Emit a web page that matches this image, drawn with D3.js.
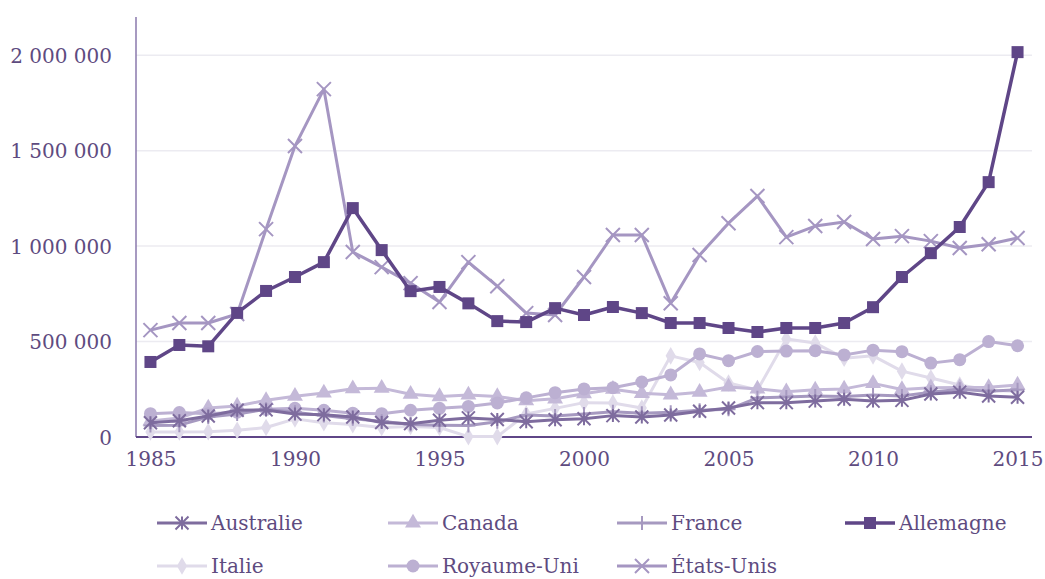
<!DOCTYPE html>
<html>
<head>
<meta charset="utf-8">
<script src="https://cdn.jsdelivr.net/npm/d3@7"></script>
<style>
    body { margin: 0; background: #fff; }
</style>
</head>
<body>
<svg id="chart" width="1045" height="579"></svg>
<script>
(function () {
    'use strict';

    var years = d3.range(1985, 2016);
    var yTicks = [0, 500000, 1000000, 1500000, 2000000];
    var xTicks = [1985, 1990, 1995, 2000, 2005, 2010, 2015];

    var australie = [75000, 85000, 110000, 140000, 142000, 120000, 117000, 105000, 76000, 70000,
        88000, 100000, 92000, 80000, 90000, 96000, 112000, 105000, 115000, 135000,
        152000, 180000, 180000, 188000, 198000, 188000, 192000, 225000, 235000, 215000, 208000];
    var canada = [84000, 99000, 152000, 162000, 192000, 214000, 231000, 253000, 256000, 224000,
        212000, 220000, 212000, 190000, 200000, 227000, 250000, 229000, 221000, 235000,
        262000, 252000, 237000, 247000, 252000, 281000, 249000, 258000, 259000, 260000, 272000];
    var france = [60000, 62000, 105000, 120000, 145000, 130000, 112000, 95000, 82000, 65000,
        62000, 60000, 80000, 115000, 110000, 120000, 132000, 125000, 130000, 140000,
        145000, 205000, 210000, 215000, 212000, 220000, 215000, 235000, 250000, 240000, 248000];
    var allemagne = [393000, 482000, 475000, 650000, 765000, 838000, 916000, 1199000, 979000, 764000,
        786000, 700000, 607000, 602000, 675000, 639000, 681000, 649000, 597000, 597000,
        571000, 550000, 571000, 571000, 597000, 680000, 838000, 963000, 1100000, 1335000, 2016000];
    var italie = [26000, 26000, 28000, 35000, 50000, 95000, 75000, 65000, 50000, 55000,
        50000, 2000, 2000, 120000, 150000, 180000, 178000, 152000, 425000, 390000,
        283000, 246000, 513000, 492000, 413000, 425000, 345000, 309000, 272000, 246000, 238000];
    var royaumeUni = [122000, 128000, 122000, 130000, 145000, 150000, 140000, 125000, 122000, 140000,
        150000, 160000, 178000, 205000, 232000, 252000, 258000, 288000, 325000, 435000,
        400000, 448000, 450000, 452000, 430000, 455000, 447000, 387000, 405000, 500000, 478000];
    var etatsUnis = [560000, 597000, 597000, 644000, 1089000, 1524000, 1822000, 969000, 890000, 806000,
        707000, 916000, 790000, 649000, 639000, 838000, 1058000, 1058000, 701000, 953000,
        1120000, 1262000, 1047000, 1105000, 1126000, 1037000, 1052000, 1026000, 990000, 1010000, 1042000];

    var series = [
        { name: 'Australie', values: australie, color: '#7e6c9e', marker: 'asterisk' },
        { name: 'Canada', values: canada, color: '#c4b9d8', marker: 'triangle' },
        { name: 'France', values: france, color: '#a699c0', marker: 'plus' },
        { name: 'Allemagne', values: allemagne, color: '#5f4687', marker: 'square' },
        { name: 'Italie', values: italie, color: '#e0dbea', marker: 'diamond' },
        { name: 'Royaume-Uni', values: royaumeUni, color: '#bcb0d2', marker: 'circle' },
        { name: 'États-Unis', values: etatsUnis, color: '#a596c2', marker: 'cross' }
    ];

    // draw order: light lines first, dark ones on top
    var drawOrder = ['Italie', 'Canada', 'Royaume-Uni', 'France', 'Australie', 'États-Unis', 'Allemagne'];

    var FONT = "'DejaVu Serif', 'Liberation Serif', 'Noto Serif', serif",
        FONT_SIZE = '20px',
        TEXT_COLOR = '#5e4b80';

    var svg = d3.select('#chart');
    var left = 136, right = 1032, top = 17, bottom = 437;

    var x = d3.scalePoint()
        .domain(years)
        .range([left, right])
        .padding(0.5);

    var y = d3.scaleLinear()
        .domain([0, 2200000])
        .range([bottom, top]);

    var fmt = d3.formatLocale({ decimal: ',', thousands: ' ', grouping: [3], currency: ['', ''] }).format(',d');

    // gridlines
    svg.append('g')
        .attr('class', 'grid')
        .selectAll('line')
        .data(yTicks.filter(function (d) { return d > 0; }))
        .enter().append('line')
        .attr('x1', left)
        .attr('x2', right)
        .attr('y1', function (d) { return y(d); })
        .attr('y2', function (d) { return y(d); })
        .style('stroke', '#ecebf1')
        .style('stroke-width', 1.5);

    // y axis
    var yAxis = svg.append('g')
        .attr('transform', 'translate(' + left + ',0)')
        .call(d3.axisLeft(y).tickValues(yTicks).tickFormat(fmt).tickSize(0).tickPadding(24));
    yAxis.attr('font-family', null);
    yAxis.select('.domain').remove();
    yAxis.selectAll('text')
        .style('font-family', FONT)
        .style('font-size', FONT_SIZE)
        .style('fill', TEXT_COLOR)
        .attr('dy', '0.35em');

    svg.append('line')
        .attr('x1', left).attr('x2', left)
        .attr('y1', top).attr('y2', bottom)
        .style('stroke', '#8a79ad')
        .style('stroke-width', 1.5);

    // x axis
    var xAxis = svg.append('g')
        .attr('transform', 'translate(0,' + bottom + ')')
        .call(d3.axisBottom(x).tickValues(xTicks).tickFormat(d3.format('d')).tickSize(0).tickPadding(22));
    xAxis.attr('font-family', null);
    xAxis.select('.domain').remove();
    xAxis.selectAll('text')
        .style('font-family', FONT)
        .style('font-size', FONT_SIZE)
        .style('fill', TEXT_COLOR)
        .attr('dy', '0.35em');

    svg.append('line')
        .attr('x1', left).attr('x2', right)
        .attr('y1', bottom).attr('y2', bottom)
        .style('stroke', '#5f4687')
        .style('stroke-width', 2);

    function drawMarker(g, type, color) {
        var s;
        switch (type) {
            case 'square':
                g.append('rect')
                    .attr('x', -6).attr('y', -6)
                    .attr('width', 12).attr('height', 12)
                    .style('fill', color);
                break;
            case 'circle':
                g.append('circle')
                    .attr('r', 6.5)
                    .style('fill', color);
                break;
            case 'triangle':
                g.append('path')
                    .attr('d', d3.symbol().type(d3.symbolTriangle).size(110))
                    .style('fill', color);
                break;
            case 'diamond':
                g.append('path')
                    .attr('d', d3.symbol().type(d3.symbolDiamond).size(90))
                    .style('fill', color);
                break;
            case 'cross':
                s = 7;
                g.append('path')
                    .attr('d', 'M' + -s + ',' + -s + 'L' + s + ',' + s + 'M' + -s + ',' + s + 'L' + s + ',' + -s)
                    .style('stroke', color)
                    .style('stroke-width', 2)
                    .style('fill', 'none');
                break;
            case 'plus':
                s = 7;
                g.append('path')
                    .attr('d', 'M0,' + -s + 'L0,' + s + 'M' + -s + ',0L' + s + ',0')
                    .style('stroke', color)
                    .style('stroke-width', 2)
                    .style('fill', 'none');
                break;
            case 'asterisk':
                s = 6.5;
                g.append('path')
                    .attr('d', 'M0,' + -s + 'L0,' + s + 'M' + -s + ',' + -s + 'L' + s + ',' + s + 'M' + -s + ',' + s + 'L' + s + ',' + -s)
                    .style('stroke', color)
                    .style('stroke-width', 2)
                    .style('fill', 'none');
                break;
        }
    }

    var line = d3.line()
        .x(function (d, i) { return x(years[i]); })
        .y(function (d) { return y(d); });

    var plot = svg.append('g').attr('class', 'plot');

    drawOrder.forEach(function (name) {
        var s = series.filter(function (d) { return d.name === name; })[0];
        var g = plot.append('g').attr('class', 'series');

        g.append('path')
            .datum(s.values)
            .attr('d', line)
            .style('fill', 'none')
            .style('stroke', s.color)
            .style('stroke-width', s.name === 'Allemagne' ? 3.5 : 3)
            .style('stroke-linejoin', 'round');

        g.selectAll('.pt')
            .data(s.values)
            .enter().append('g')
            .attr('class', 'pt')
            .attr('transform', function (d, i) {
                return 'translate(' + x(years[i]) + ',' + y(d) + ')';
            })
            .each(function () {
                drawMarker(d3.select(this), s.marker, s.color);
            });
    });

    // legend, 4 columns x 2 rows
    var colX = [157, 388, 617, 845],
        rowY = [523, 566];

    var legend = svg.append('g').attr('class', 'legend');
    var legendItem = legend.selectAll('.item')
        .data(series)
        .enter().append('g')
        .attr('class', 'item')
        .attr('transform', function (d, i) {
            return 'translate(' + colX[i % 4] + ',' + rowY[Math.floor(i / 4)] + ')';
        });

    legendItem.append('line')
        .attr('x1', 0).attr('x2', 50)
        .style('stroke', function (d) { return d.color; })
        .style('stroke-width', function (d) { return d.name === 'Allemagne' ? 3.5 : 3; });

    legendItem.append('g')
        .attr('transform', 'translate(25,0)')
        .each(function (d) {
            drawMarker(d3.select(this), d.marker, d.color);
        });

    legendItem.append('text')
        .attr('x', 54)
        .attr('dy', '0.35em')
        .style('font-family', FONT)
        .style('font-size', FONT_SIZE)
        .style('fill', TEXT_COLOR)
        .text(function (d) { return d.name; });
})();
</script>
</body>
</html>
